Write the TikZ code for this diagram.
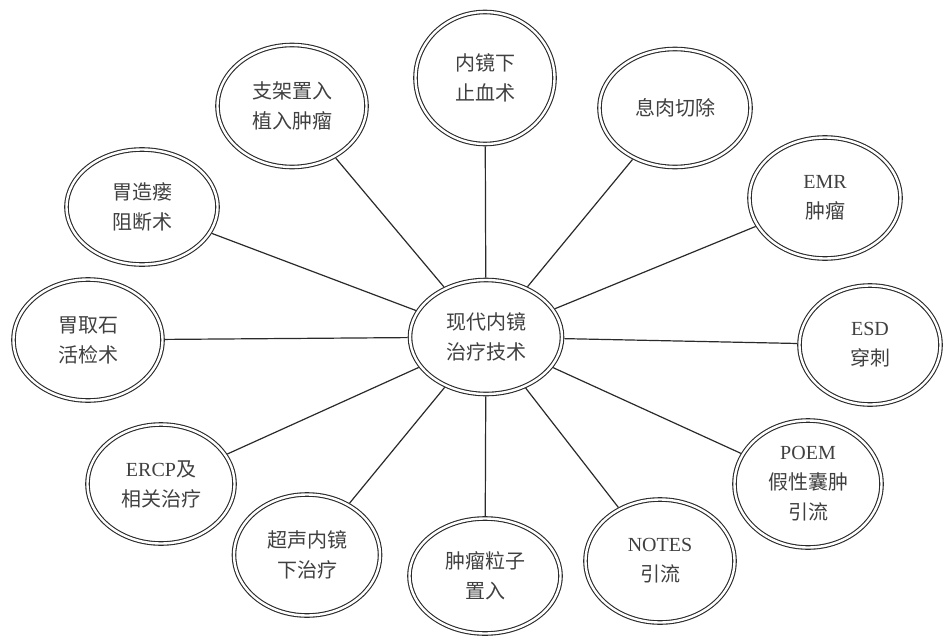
\documentclass[tikz,border=0pt]{standalone}
\usepackage{fontspec}
\setmainfont{Liberation Serif}
\newfontfamily\cjk{Noto Sans CJK SC}
\usetikzlibrary{shapes.geometric}
\definecolor{ink}{HTML}{2A2A2A}
\definecolor{txt}{HTML}{404040}
\tikzset{
  bub/.style={ellipse, draw=ink, line width=1.1pt, double=white, double distance=2.4pt,
    inner sep=0pt, outer sep=2.3pt, align=center, text=txt,
    font=\cjk\fontsize{20}{30}\selectfont},
  spoke/.style={draw=ink, line width=1.2pt}
}
\begin{document}
\begin{tikzpicture}[x=1pt,y=-1pt]
\useasboundingbox (0,0) rectangle (946,640);
\node[bub, minimum width=152pt, minimum height=114pt] (c) at (486,337) {现代内镜\\治疗技术};
\node[bub, minimum width=139pt, minimum height=132pt] (zx) at (485,78) {内镜下\\止血术};
\node[bub, minimum width=149pt, minimum height=122pt] (zj) at (292,106) {支架置入\\植入肿瘤};
\node[bub, minimum width=151pt, minimum height=118pt] (xr) at (675,108) {息肉切除};
\node[bub, minimum width=151pt, minimum height=121pt] (emr) at (825,198) {{\rmfamily EMR}\\肿瘤};
\node[bub, minimum width=141pt, minimum height=119pt] (esd) at (870,345) {{\rmfamily ESD}\\穿刺};
\node[bub, minimum width=147pt, minimum height=127pt] (poem) at (808,484) {{\rmfamily POEM}\\假性囊肿\\引流};
\node[bub, minimum width=149pt, minimum height=123pt] (notes) at (660,561) {{\rmfamily NOTES}\\引流};
\node[bub, minimum width=151pt, minimum height=115pt] (zl) at (485,576) {肿瘤粒子\\置入};
\node[bub, minimum width=146pt, minimum height=121pt] (cs) at (307,555) {超声内镜\\下治疗};
\node[bub, minimum width=147pt, minimum height=119pt] (ercp) at (161,484) {{\rmfamily ERCP}及\\相关治疗};
\node[bub, minimum width=151pt, minimum height=115pt] (wz) at (142,207) {胃造瘘\\阻断术};
\node[bub, minimum width=149pt, minimum height=121pt] (wq) at (88,340) {胃取石\\活检术};
\foreach \n in {zx,zj,xr,emr,esd,poem,notes,zl,cs,ercp,wz,wq}
  \draw[spoke] (c) -- (\n);
\end{tikzpicture}
\end{document}
